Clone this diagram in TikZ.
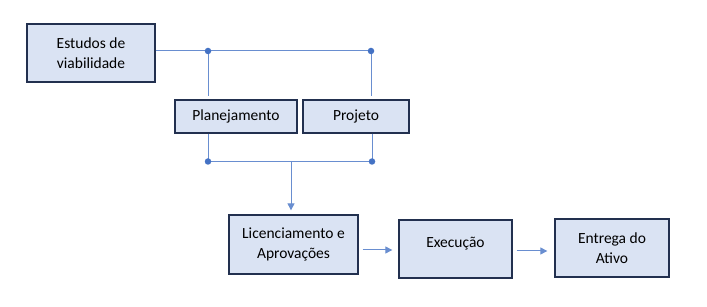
\documentclass[tikz,border=0pt]{standalone}
\usepackage{fontspec}
\setmainfont{Carlito}
\usetikzlibrary{arrows.meta,positioning,calc}
\definecolor{boxfill}{HTML}{DAE3F3}
\definecolor{boxline}{HTML}{22304F}
\definecolor{linkblue}{HTML}{4472C4}

\begin{document}
\begin{tikzpicture}[
    x=1pt, y=-1pt,
    box/.style={draw=boxline, line width=1.3pt, fill=boxfill, align=center, inner sep=2pt,
        font=\fontsize{15.5}{20}\selectfont},
    link/.style={draw=linkblue!80, line width=1pt},
    arr/.style={link, -{Triangle[width=7pt,length=7pt]}},
    dot/.style={circle, fill=linkblue, inner sep=0pt, minimum size=6.5pt},
]
\useasboundingbox (0,0) rectangle (707,307);

\node[box, minimum width=128pt, minimum height=58pt] (est) at (91,53) {Estudos de\\viabilidade};
\node[box, minimum width=122pt, minimum height=33pt] (plan) at (236,116.5) {Planejamento};
\node[box, minimum width=106pt, minimum height=33pt] (proj) at (356,116.5) {Projeto};
\node[box, minimum width=129pt, minimum height=59pt] (lic) at (293.5,244.5) {Licenciamento e\\Aprovações};
\node[box, minimum width=113pt, minimum height=58pt, text depth=13pt] (exe) at (455.5,249) {Execução};
\node[box, minimum width=114pt, minimum height=58pt] (ent) at (612,248) {Entrega do\\Ativo};

% junction points
\coordinate (d1) at (208,51);
\coordinate (d2) at (371,51);
\coordinate (d3) at (208,161.5);
\coordinate (d4) at (372,161.5);
\coordinate (mid) at (291,161.5);

\draw[link] (est.east |- d1) -- (d2);
\draw[link, shorten >=3pt] (d1) -- (d1 |- plan.north);
\draw[link, shorten >=3pt] (d2) -- (d2 |- proj.north);
\draw[link] (d3 |- plan.south) -- (d3);
\draw[link] (d4 |- proj.south) -- (d4);
\draw[link] (d3) -- (d4);
\draw[arr, shorten >=4pt] (mid) -- (mid |- lic.north);

\draw[arr, shorten <=4pt, shorten >=6pt] (lic.east |- 0,250) -- (exe.west |- 0,250);
\draw[arr, shorten <=4pt, shorten >=7pt] (exe.east |- 0,251) -- (ent.west |- 0,251);

\foreach \p in {d1,d2,d3,d4}
    \node[dot] at (\p) {};
\end{tikzpicture}
\end{document}
